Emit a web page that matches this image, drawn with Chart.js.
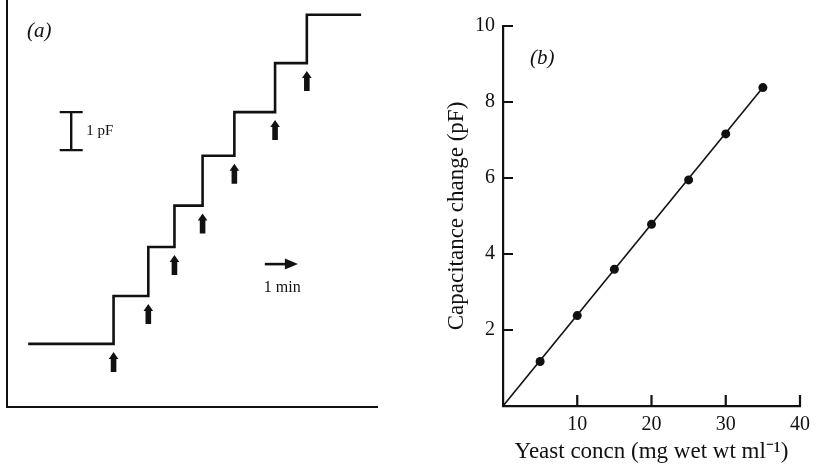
<!DOCTYPE html>
<html><head><meta charset="utf-8">
<script src="https://cdn.jsdelivr.net/npm/chart.js@4/dist/chart.umd.min.js"></script>
<style>
html,body{margin:0;padding:0;background:#fff;}
#wrap{position:relative;width:817px;height:466px;background:#fff;}
canvas{position:absolute;left:0;top:0;}
</style></head><body>
<div id="wrap"><canvas id="ca" width="817" height="466"></canvas><canvas id="cb" width="817" height="466"></canvas></div>
<script>
// ---- Panel (a): capacitance trace (time in min, level in pF relative to baseline)
const traceTimes  = [0.64, 3.22, 4.27, 5.06, 5.91, 6.87, 8.10, 9.06, 10.70];
const traceLevels = [0, 1.26, 2.55, 3.64, 4.95, 6.10, 7.39, 8.66, 8.66];
const additionTimes  = [3.22, 4.27, 5.06, 5.91, 6.87, 8.10, 9.06];
const additionLevels = [0, 1.26, 2.55, 3.64, 4.95, 6.10, 7.39];
const scaleBarTime = 1.94, scaleBarBase = 5.1;   // 1 pF bar
const timeBarStart = 7.79, timeBarLevel = 2.1;   // 1 min arrow
const traceXRange = [0, 11.18];
const traceYRange = [-1.66, 9.05];

// ---- Panel (b): capacitance change vs yeast concentration
const concn = [5, 10, 15, 20, 25, 30, 35];
const capChange = [1.17, 2.38, 3.60, 4.78, 5.95, 7.16, 8.38];
const fitX = [0, 35];
const fitY = [0, 8.38];
const xTicksB = [10, 20, 30, 40];
const yTicksB = [2, 4, 6, 8, 10];

const INK = '#111';
const SERIF = '"Liberation Serif", "Times New Roman", serif';

function upArrow(ctx, px, tip, len){
  ctx.beginPath();
  ctx.moveTo(px, tip);
  ctx.lineTo(px + 4.8, tip + 7);
  ctx.lineTo(px + 2.8, tip + 7);
  ctx.lineTo(px + 2.8, tip + len);
  ctx.lineTo(px - 2.8, tip + len);
  ctx.lineTo(px - 2.8, tip + 7);
  ctx.lineTo(px - 4.8, tip + 7);
  ctx.closePath();
  ctx.fill();
}

const panelA = {
  id: 'panelA',
  afterDatasetsDraw(chart){
    const {ctx, chartArea: ca, scales: {x, y}} = chart;
    ctx.save();
    ctx.fillStyle = INK; ctx.strokeStyle = INK;
    additionTimes.forEach((t, i) => {
      upArrow(ctx, x.getPixelForValue(t), y.getPixelForValue(additionLevels[i]) + 8, 20);
    });
    // 1 pF scale bar
    const sx = x.getPixelForValue(scaleBarTime);
    const sy0 = y.getPixelForValue(scaleBarBase), sy1 = y.getPixelForValue(scaleBarBase + 1);
    ctx.lineWidth = 2.4;
    ctx.beginPath();
    ctx.moveTo(sx, sy0); ctx.lineTo(sx, sy1);
    ctx.moveTo(sx - 11.5, sy0); ctx.lineTo(sx + 11.5, sy0);
    ctx.moveTo(sx - 11.5, sy1); ctx.lineTo(sx + 11.5, sy1);
    ctx.stroke();
    ctx.font = '15px ' + SERIF;
    ctx.textBaseline = 'middle'; ctx.textAlign = 'left';
    ctx.fillText('1 pF', sx + 15, (sy0 + sy1) / 2);
    // 1 min arrow
    const tx0 = x.getPixelForValue(timeBarStart), tx1 = x.getPixelForValue(timeBarStart + 1);
    const ty = y.getPixelForValue(timeBarLevel);
    ctx.lineWidth = 2.6;
    ctx.beginPath(); ctx.moveTo(tx0, ty); ctx.lineTo(tx1 - 10, ty); ctx.stroke();
    ctx.beginPath(); ctx.moveTo(tx1, ty); ctx.lineTo(tx1 - 13, ty - 5.5); ctx.lineTo(tx1 - 13, ty + 5.5); ctx.closePath(); ctx.fill();
    ctx.font = '16px ' + SERIF;
    ctx.fillText('1 min', tx0 - 1, ty + 24);
    // panel label
    ctx.font = 'italic 21px ' + SERIF;
    ctx.fillText('(a)', ca.left + 20, 31);
    ctx.restore();
  }
};

new Chart(document.getElementById('ca'), {
  type: 'scatter',
  data: { datasets: [{
    data: traceTimes.map((t, i) => ({x: t, y: traceLevels[i]})),
    showLine: true, stepped: true, borderColor: INK, borderWidth: 2.6,
    pointRadius: 0, fill: false
  }]},
  options: {
    responsive: false, animation: false, devicePixelRatio: 1,
    layout: { padding: {left: 7, top: 0, right: 440, bottom: 59} },
    plugins: { legend: {display: false}, tooltip: {enabled: false} },
    scales: {
      x: { type: 'linear', min: traceXRange[0], max: traceXRange[1],
           grid: {display: false, drawTicks: false}, ticks: {display: false},
           border: {display: true, color: INK, width: 2},
           afterFit(s){ s.height = 0; } },
      y: { type: 'linear', min: traceYRange[0], max: traceYRange[1],
           grid: {display: false, drawTicks: false}, ticks: {display: false},
           border: {display: true, color: INK, width: 2},
           afterFit(s){ s.width = 0; } }
    }
  },
  plugins: [panelA]
});

const panelB = {
  id: 'panelB',
  afterDraw(chart){
    const {ctx, chartArea: ca, scales: {x, y}} = chart;
    ctx.save();
    ctx.strokeStyle = INK; ctx.lineWidth = 2.2;
    ctx.beginPath();
    yTicksB.forEach(v => { const py = y.getPixelForValue(v); ctx.moveTo(ca.left, py); ctx.lineTo(ca.left + 10, py); });
    xTicksB.forEach(v => { const px = x.getPixelForValue(v); ctx.moveTo(px, ca.bottom); ctx.lineTo(px, ca.bottom - 11); });
    ctx.stroke();
    ctx.fillStyle = INK;
    ctx.font = 'italic 21px ' + SERIF;
    ctx.textBaseline = 'middle'; ctx.textAlign = 'left';
    ctx.fillText('(b)', ca.left + 27, 58);
    ctx.restore();
  }
};

new Chart(document.getElementById('cb'), {
  type: 'scatter',
  data: { datasets: [
    { data: concn.map((c, i) => ({x: c, y: capChange[i]})),
      pointRadius: 4.5, pointBackgroundColor: INK, pointBorderColor: INK, pointBorderWidth: 0, showLine: false },
    { data: fitX.map((c, i) => ({x: c, y: fitY[i]})),
      showLine: true, borderColor: INK, borderWidth: 1.6, pointRadius: 0 }
  ]},
  options: {
    responsive: false, animation: false, devicePixelRatio: 1,
    layout: { padding: {left: 420, top: 26, right: 11, bottom: 0} },
    plugins: { legend: {display: false}, tooltip: {enabled: false} },
    scales: {
      x: { type: 'linear', min: 0, max: 40,
           grid: {display: false, drawTicks: false},
           border: {display: true, color: INK, width: 2.2},
           ticks: { stepSize: 10, padding: 7, color: INK, font: {family: SERIF, size: 20},
                    callback: v => (xTicksB.includes(v) ? String(v) : '') },
           title: { display: true, text: 'Yeast concn (mg wet wt ml\u207B\u00B9)', color: INK,
                    font: {family: SERIF, size: 23}, padding: {top: 0, bottom: 0} },
           afterFit(s){ s.height = 60; } },
      y: { type: 'linear', min: 0, max: 10,
           grid: {display: false, drawTicks: false},
           border: {display: true, color: INK, width: 2.2},
           ticks: { stepSize: 2, padding: 8, color: INK, font: {family: SERIF, size: 20},
                    callback: v => (yTicksB.includes(v) ? String(v) : '') },
           title: { display: true, text: 'Capacitance change (pF)', color: INK,
                    font: {family: SERIF, size: 23}, padding: {top: 23, bottom: 0} },
           afterFit(s){ s.width = 83; } }
    }
  },
  plugins: [panelB]
});
</script>
</body></html>
